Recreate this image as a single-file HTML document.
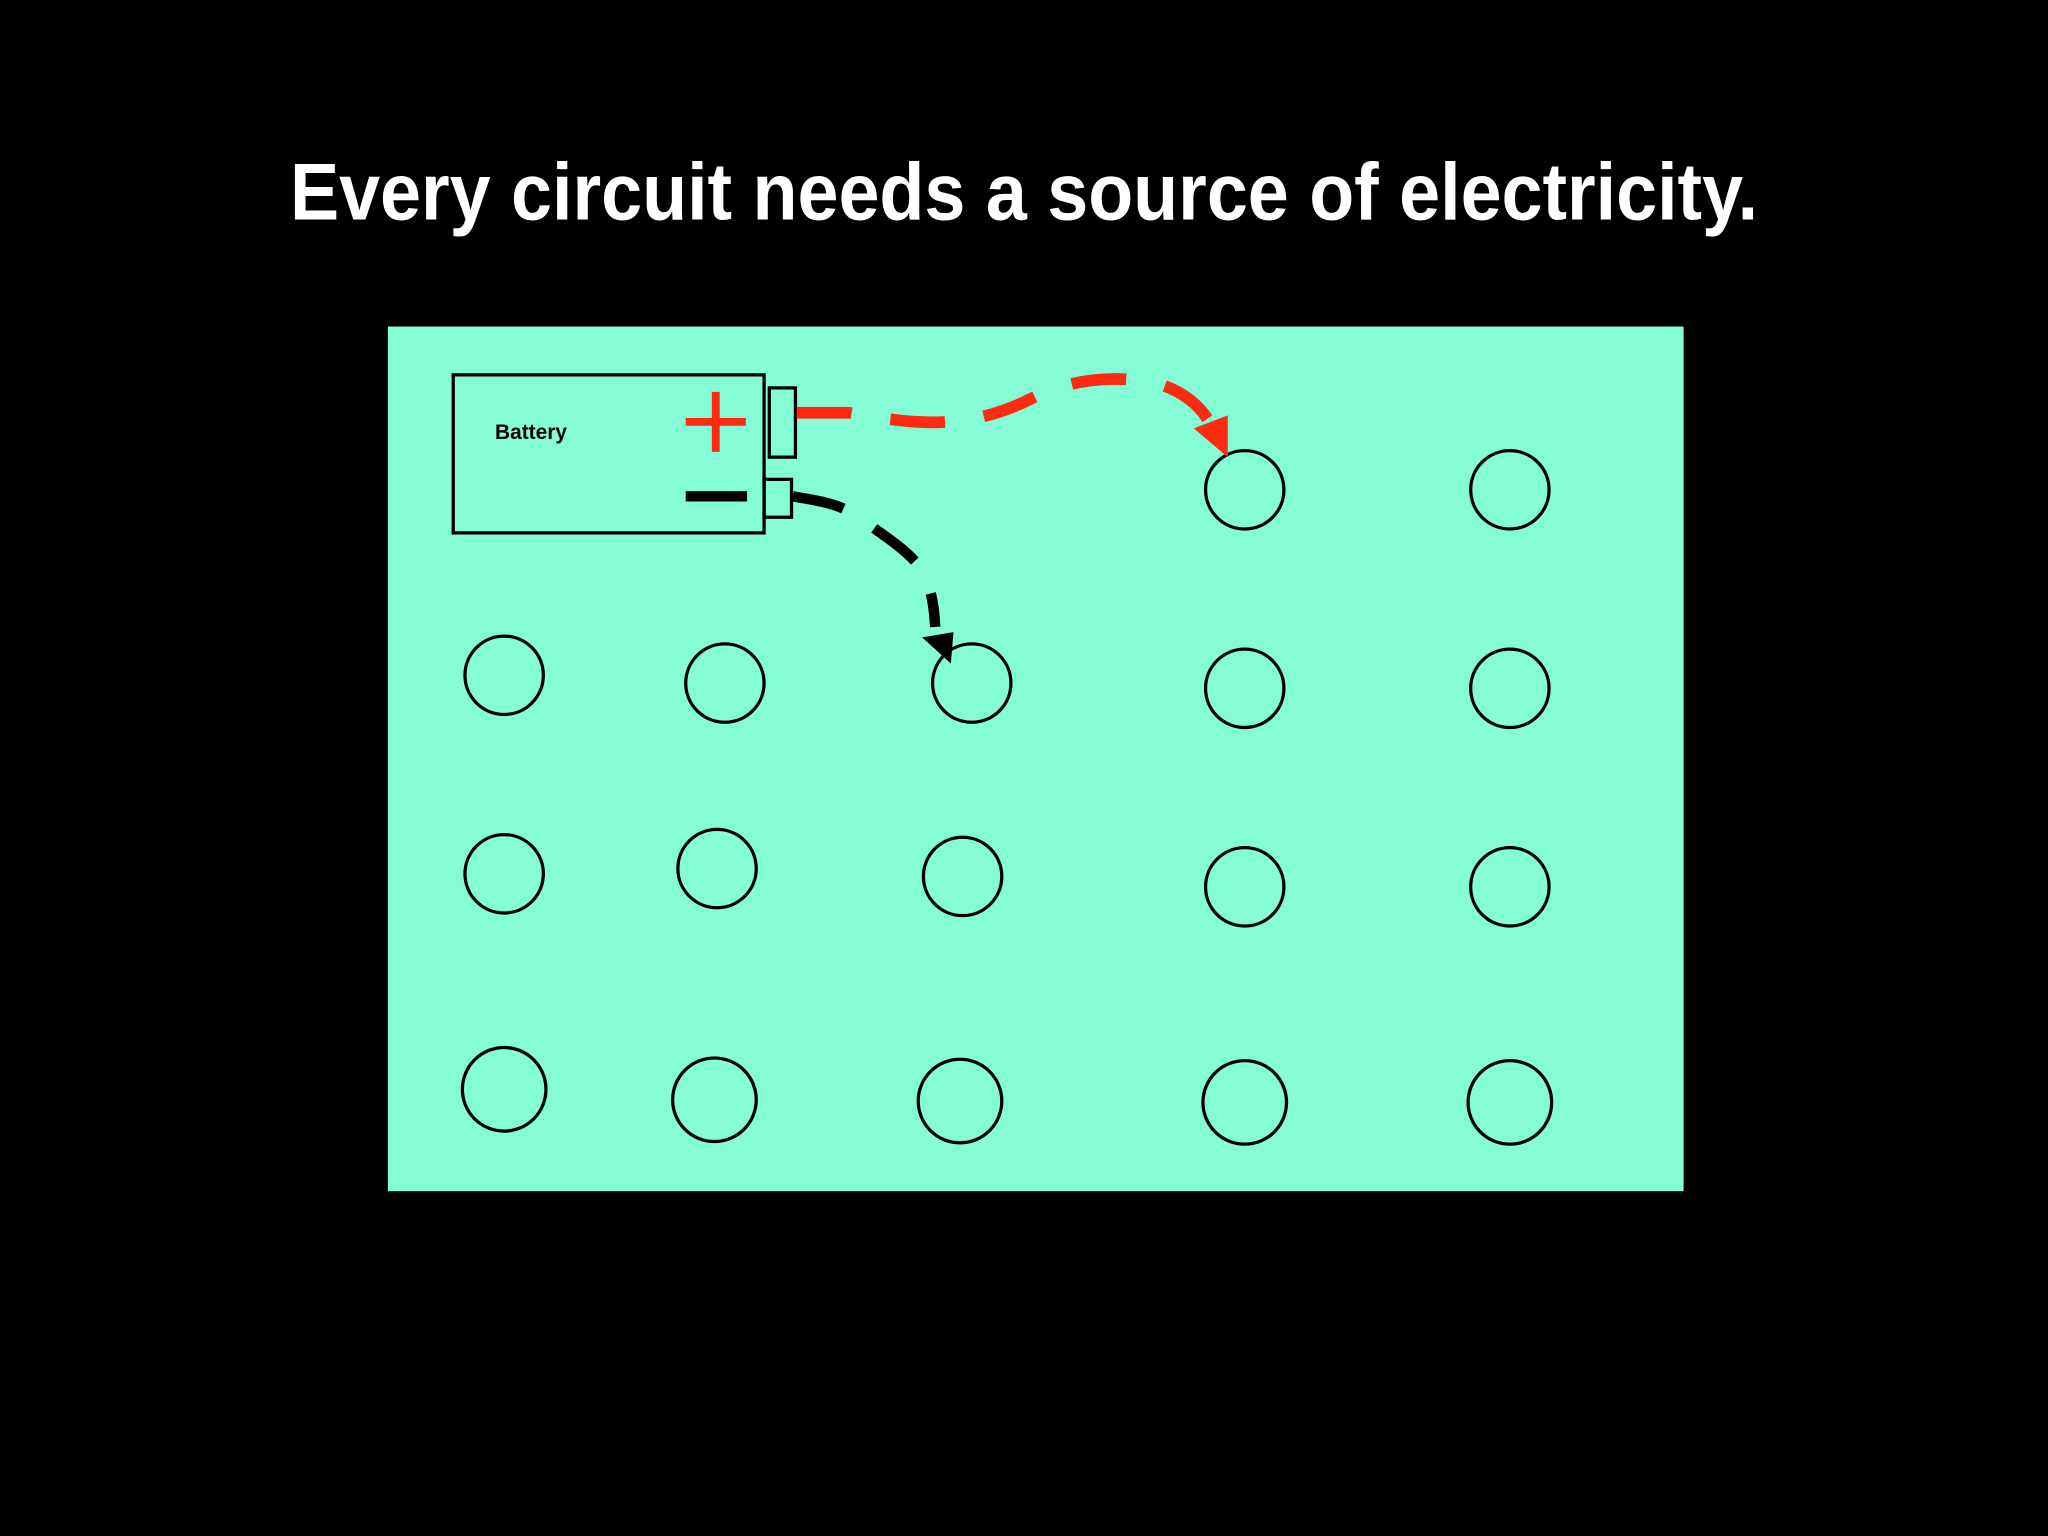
<!DOCTYPE html>
<html><head><meta charset="utf-8"><style>
html,body{margin:0;padding:0;background:#000;width:2048px;height:1536px;overflow:hidden}
svg{display:block}
</style></head><body>
<svg width="2048" height="1536" viewBox="0 0 1568 1176" xmlns="http://www.w3.org/2000/svg">
<rect width="1568" height="1176" fill="#000"/>
<text x="784" y="168" text-anchor="middle" font-family="Liberation Sans, sans-serif" font-weight="bold" font-size="62" fill="#fff" textLength="1124" lengthAdjust="spacingAndGlyphs">Every circuit needs a source of electricity.</text>
<rect x="297" y="250" width="992" height="662" fill="#84FCD6"/>
<g fill="none" stroke="#000" stroke-width="2.5">
<rect x="347" y="287" width="238" height="121"/>
<rect x="589" y="297" width="20" height="53"/>
<rect x="585" y="367" width="21" height="29"/>
</g>
<text x="379" y="336" font-family="Liberation Sans, sans-serif" font-weight="bold" font-size="16" fill="#000">Battery</text>
<g stroke="#ff2a12" stroke-width="6"><line x1="525" y1="323" x2="571" y2="323"/><line x1="548" y1="300" x2="548" y2="346"/></g>
<line x1="525" y1="380" x2="572" y2="380" stroke="#000" stroke-width="8"/>
<g fill="none" stroke="#000" stroke-width="2.5">
<circle cx="953" cy="375" r="30"/><circle cx="1156" cy="375" r="30"/>
<circle cx="386" cy="517" r="30"/><circle cx="555" cy="523" r="30"/><circle cx="744" cy="523" r="30"/><circle cx="953" cy="527" r="30"/><circle cx="1156" cy="527" r="30"/>
<circle cx="386" cy="669" r="30"/><circle cx="549" cy="665" r="30"/><circle cx="737" cy="671" r="30"/><circle cx="953" cy="679" r="30"/><circle cx="1156" cy="679" r="30"/>
<circle cx="386" cy="834" r="32"/><circle cx="547" cy="842" r="32"/><circle cx="735" cy="843" r="32"/><circle cx="953" cy="844" r="32"/><circle cx="1156" cy="844" r="32"/>
</g>
<path d="M610 316 L650 316 C700 325 740 330 790 305 C820 290 850 288 880 292 C905 298 920 310 930 330" fill="none" stroke="#ff2a12" stroke-width="9" stroke-dasharray="42 30"/>
<polygon points="914,328 940,318 940,350" fill="#ff2a12"/>
<path d="M607 380 C630 384 645 386 660 398 C680 412 695 422 705 435 C712 448 715 460 716 480" fill="none" stroke="#000" stroke-width="8" stroke-dasharray="40 28"/>
<polygon points="706,488 730,484 728,508" fill="#000"/>
</svg>
</body></html>
